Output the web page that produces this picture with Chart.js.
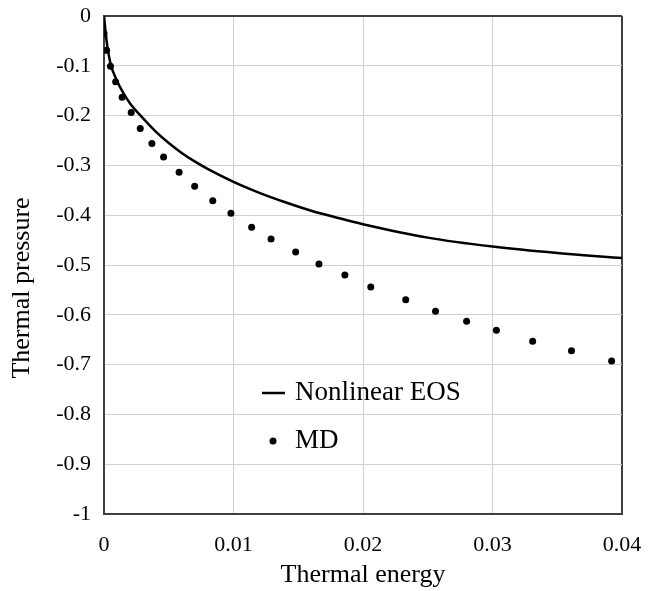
<!DOCTYPE html>
<html>
<head>
<meta charset="utf-8">
<script src="https://cdn.jsdelivr.net/npm/chart.js@4.4.1/dist/chart.umd.min.js"></script>
<style>
  html, body { margin: 0; padding: 0; background: #fff; }
  #wrap { width: 653px; height: 591px; }
</style>
</head>
<body>
<div id="wrap"><canvas id="myChart" width="653" height="591"></canvas></div>
<script>
// MD simulation points
var mdEnergy = [0.0000, 0.0002, 0.0005, 0.0009, 0.0014, 0.0021, 0.0028, 0.0037, 0.0046, 0.0058,
    0.0070, 0.0084, 0.0098, 0.0114, 0.0129, 0.0148, 0.0166, 0.0186, 0.0206, 0.0233,
    0.0256, 0.0280, 0.0303, 0.0331, 0.0361, 0.0392];
var mdPressure = [-0.035, -0.069, -0.101, -0.132, -0.163, -0.194, -0.226, -0.256, -0.283, -0.314,
    -0.342, -0.371, -0.396, -0.424, -0.448, -0.474, -0.498, -0.520, -0.544, -0.570,
    -0.593, -0.613, -0.631, -0.653, -0.672, -0.693];

// Nonlinear EOS curve
var eosEnergy = [0, 0.0002, 0.0005, 0.001, 0.0015, 0.002, 0.003, 0.004, 0.005, 0.006, 0.007,
    0.008, 0.010, 0.012, 0.014, 0.016, 0.018, 0.020, 0.025, 0.030, 0.035, 0.040];
var eosPressure = [0, -0.05, -0.095, -0.13, -0.155, -0.175, -0.205, -0.232, -0.255, -0.275, -0.292,
    -0.307, -0.333, -0.355, -0.374, -0.391, -0.405, -0.418, -0.445, -0.463, -0.476, -0.486];

var yTitle = 'Thermal pressure';

var serif = "'Liberation Serif', 'Times New Roman', serif";
var frameColor = '#404040';
var gridColor = '#d0d0d0';

function pts(xs, ys) {
    return xs.map(function (x, i) { return { x: x, y: ys[i] }; });
}

// legend inside the plot area + y title (sits a bit lower than the axis centre)
var extras = {
    id: 'extras',
    afterDraw: function (chart) {
        var c = chart.ctx;
        c.save();
        c.fillStyle = '#000';
        c.strokeStyle = '#000';
        c.font = '27px ' + serif;
        c.textBaseline = 'middle';
        c.lineWidth = 2.5;
        c.beginPath();
        c.moveTo(262, 393);
        c.lineTo(285, 393);
        c.stroke();
        c.fillText(chart.data.datasets[0].label, 295, 393);
        c.beginPath();
        c.arc(273, 441, 3.5, 0, Math.PI * 2);
        c.fill();
        c.fillText(chart.data.datasets[1].label, 295, 441);

        c.font = '26px ' + serif;
        c.textAlign = 'center';
        c.translate(22, 288);
        c.rotate(-Math.PI / 2);
        c.fillText(yTitle, 0, 0);
        c.restore();
    }
};

var ctx = document.getElementById('myChart').getContext('2d');
var myChart = new Chart(ctx, {
    type: 'scatter',
    data: {
        datasets: [{
            label: 'Nonlinear EOS',
            data: pts(eosEnergy, eosPressure),
            showLine: true,
            borderColor: '#000',
            borderWidth: 2.5,
            pointRadius: 0,
            cubicInterpolationMode: 'monotone'
        }, {
            label: 'MD',
            data: pts(mdEnergy, mdPressure),
            backgroundColor: '#000',
            borderColor: '#000',
            pointRadius: 3.5,
            borderWidth: 0
        }]
    },
    options: {
        responsive: false,
        animation: false,
        layout: { padding: { top: 16, right: 31, left: 0, bottom: 0 } },
        plugins: {
            legend: { display: false },
            tooltip: { enabled: false }
        },
        scales: {
            x: {
                type: 'linear',
                min: 0,
                max: 0.04,
                afterFit: function (s) {
                    s.height = 77;
                    s.paddingLeft = 0;
                    s.paddingRight = 0;
                },
                ticks: {
                    stepSize: 0.01,
                    color: '#000',
                    padding: 18,
                    font: { family: serif, size: 22 },
                    callback: function (v) { return parseFloat(v.toFixed(2)).toString(); }
                },
                grid: {
                    drawTicks: false,
                    color: function (c) { return c.tick && c.tick.value === 0.04 ? frameColor : gridColor; },
                    lineWidth: function (c) { return c.tick && c.tick.value === 0.04 ? 2 : 1; }
                },
                border: { color: frameColor, width: 2 },
                title: {
                    display: true,
                    text: 'Thermal energy',
                    color: '#000',
                    font: { family: serif, size: 26 },
                    padding: { top: 0, bottom: 0 }
                }
            },
            y: {
                type: 'linear',
                min: -1,
                max: 0,
                afterFit: function (s) {
                    s.width = 104;
                    s.paddingTop = 0;
                    s.paddingBottom = 0;
                },
                ticks: {
                    stepSize: 0.1,
                    color: '#000',
                    padding: 13,
                    font: { family: serif, size: 22 },
                    callback: function (v) { return parseFloat(v.toFixed(1)).toString(); }
                },
                grid: {
                    drawTicks: false,
                    color: function (c) { return c.tick && c.tick.value === 0 ? frameColor : gridColor; },
                    lineWidth: function (c) { return c.tick && c.tick.value === 0 ? 2 : 1; }
                },
                border: { color: frameColor, width: 2 }
            }
        }
    },
    plugins: [extras]
});
</script>
</body>
</html>
